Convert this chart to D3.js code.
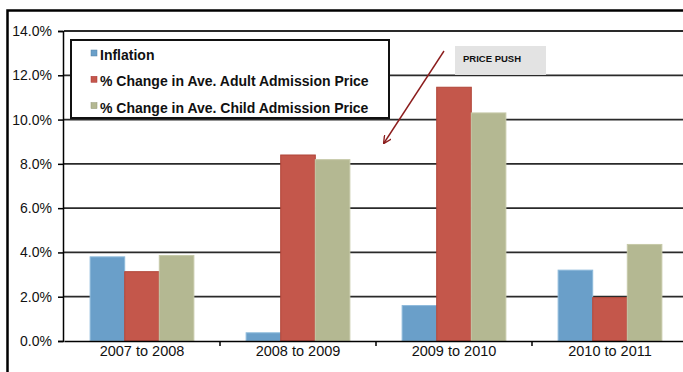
<!DOCTYPE html>
<html>
<head>
<meta charset="utf-8">
<script src="https://d3js.org/d3.v7.min.js"></script>
<style>
  body { margin: 0; background: #fff; }
  svg { display: block; }
</style>
</head>
<body>
<div id="chart"></div>
<script>
var width = 683,
    height = 372;

// data
var periods = ["2007 to 2008", "2008 to 2009", "2009 to 2010", "2010 to 2011"];
var seriesNames = ["Inflation",
                   "% Change in Ave. Adult Admission Price",
                   "% Change in Ave. Child Admission Price"];
var inflation = [0.038, 0.0037, 0.016, 0.032];
var adultPrice = [0.0313, 0.084, 0.1146, 0.0196];
var childPrice = [0.0386, 0.0819, 0.103, 0.0436];
var yTicks = [0, 0.02, 0.04, 0.06, 0.08, 0.10, 0.12, 0.14];
var colors = ["#6a9fc9", "#c4574b", "#b4b892"];
var edges = ["#8dbadb", "#b04538", "#c6c9a8"];

var seriesValues = [inflation, adultPrice, childPrice];

var svg = d3.select("#chart")
    .append("svg")
    .attr("width", width)
    .attr("height", height)
    .style("font-family", "Arial, 'Liberation Sans', sans-serif");

// outer frame
svg.append("rect")
    .attr("x", 7.5).attr("y", 10.5)
    .attr("width", 700).attr("height", 400)
    .style("fill", "none")
    .style("stroke", "#000")
    .style("stroke-width", 2.5);

var x = d3.scaleBand()
    .domain(periods)
    .range([64, 688]);

var xInner = d3.scaleBand()
    .domain(d3.range(seriesNames.length))
    .range([0, x.bandwidth() * 0.665]);

var y = d3.scaleLinear()
    .domain([0, 0.14])
    .range([341, 31]);

// gridlines
svg.append("g").selectAll("line")
    .data(yTicks.slice(1))
    .enter().append("line")
    .attr("x1", 64).attr("x2", 690)
    .attr("y1", function(d) { return y(d); })
    .attr("y2", function(d) { return y(d); })
    .style("stroke", "#2a2a2a")
    .style("stroke-width", 1.8);

// y axis
var yAxis = d3.axisLeft(y)
    .tickValues(yTicks)
    .tickFormat(d3.format(".1%"))
    .tickSize(5)
    .tickPadding(6);

var gy = svg.append("g")
    .attr("transform", "translate(63,0)")
    .call(yAxis);
gy.select(".domain").style("stroke", "#000").style("stroke-width", 1.5);
gy.selectAll(".tick line").style("stroke", "#000").style("stroke-width", 1.5);
gy.selectAll("text")
    .style("font-size", "14px")
    .style("fill", "#111");

// bars
var groups = svg.append("g").selectAll("g")
    .data(periods)
    .enter().append("g")
    .attr("transform", function(d) {
        return "translate(" + (x(d) + x.bandwidth() * 0.1675) + ",0)";
    });

groups.selectAll("rect")
    .data(function(d, i) {
        return seriesValues.map(function(s, k) { return {k: k, v: s[i]}; });
    })
    .enter().append("rect")
    .attr("x", function(d) { return xInner(d.k); })
    .attr("width", xInner.bandwidth())
    .attr("y", function(d) { return y(d.v); })
    .attr("height", function(d) { return y(0) - y(d.v); })
    .style("fill", function(d) { return colors[d.k]; })
    .style("stroke", function(d) { return edges[d.k]; })
    .style("stroke-width", 1);

// x axis
var xAxis = d3.axisBottom(x)
    .tickSize(0)
    .tickPadding(5);

var gx = svg.append("g")
    .attr("transform", "translate(0,341)")
    .call(xAxis);
gx.select(".domain").style("stroke", "#000").style("stroke-width", 1.5);
gx.selectAll("text")
    .style("font-size", "14.5px")
    .style("fill", "#111");

// small ticks between categories
svg.append("g").selectAll("line")
    .data(periods.slice(1))
    .enter().append("line")
    .attr("x1", function(d) { return x(d); })
    .attr("x2", function(d) { return x(d); })
    .attr("y1", 341).attr("y2", 346)
    .style("stroke", "#000")
    .style("stroke-width", 1.5);

// legend
var legend = svg.append("g");
legend.append("rect")
    .attr("x", 71).attr("y", 40)
    .attr("width", 318).attr("height", 78)
    .style("fill", "#fff")
    .style("stroke", "#111")
    .style("stroke-width", 2);

var items = legend.selectAll("g")
    .data(seriesNames)
    .enter().append("g")
    .attr("transform", function(d, i) { return "translate(91," + (55 + i * 26.3) + ")"; });

items.append("rect")
    .attr("x", 0).attr("y", -5)
    .attr("width", 6).attr("height", 6)
    .style("fill", function(d, i) { return colors[i]; })
    .style("stroke", function(d, i) { return i == 1 ? "#a33" : d3.color(colors[i]).darker(0.6); })
    .style("stroke-width", 0.5);

items.append("text")
    .attr("x", 9)
    .attr("y", 5)
    .style("font-size", "14px")
    .style("font-weight", "bold")
    .style("fill", "#111")
    .text(function(d) { return d; });

// annotation
svg.append("defs").append("marker")
    .attr("id", "arrow")
    .attr("viewBox", "0 0 10 10")
    .attr("refX", 9).attr("refY", 5)
    .attr("markerWidth", 6).attr("markerHeight", 6)
    .attr("orient", "auto")
    .append("path")
    .attr("d", "M0,0 L10,5 L0,10")
    .style("fill", "none")
    .style("stroke", "#8b1c1c")
    .style("stroke-width", 1.6);

svg.append("line")
    .attr("x1", 444).attr("y1", 51)
    .attr("x2", 384).attr("y2", 143)
    .style("stroke", "#8b1c1c")
    .style("stroke-width", 1.4)
    .attr("marker-end", "url(#arrow)");

svg.append("rect")
    .attr("x", 455).attr("y", 46)
    .attr("width", 91).attr("height", 29)
    .style("fill", "#e3e3e3");

svg.append("text")
    .attr("x", 463).attr("y", 61.5)
    .style("font-size", "9.5px")
    .style("font-weight", "bold")
    .style("fill", "#111")
    .text("PRICE PUSH");
</script>
</body>
</html>
